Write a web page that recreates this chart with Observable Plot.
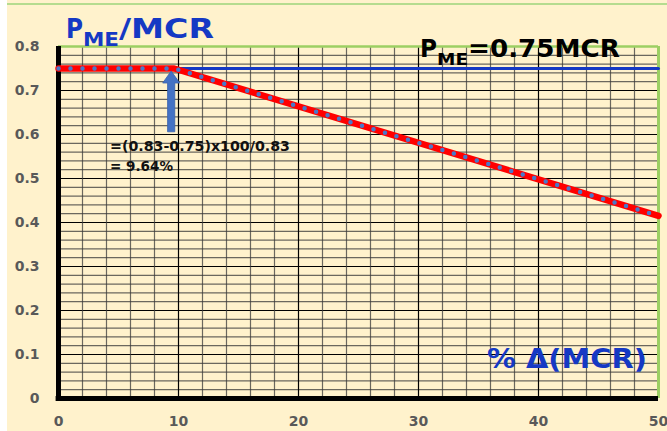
<!DOCTYPE html>
<html><head><meta charset="utf-8">
<script src="https://cdn.jsdelivr.net/npm/d3@7"></script>
<script src="https://cdn.jsdelivr.net/npm/@observablehq/plot@0.6"></script>
<style>
body{margin:0;background:#fff;}
#chart{position:relative;width:667px;height:431px;}
</style>
</head><body><div id="chart"></div>
<script>
// Data
const deltaMCR = [0, 9.64, 50];          // % Δ(MCR)
const pmeRatio = [0.75, 0.75, 0.415];    // P_ME/MCR (red dashed curve)
const limitDelta = [9.64, 50];           // blue line P_ME = 0.75 MCR
const limitRatio = [0.75, 0.75];
const arrowBottom = 0.605;               // arrow from this level up to the knee
const xTicks = [0, 10, 20, 30, 40, 50];
const yTicks = [0, 0.1, 0.2, 0.3, 0.4, 0.5, 0.6, 0.7, 0.8];

const curve = deltaMCR.map((d, i) => ({d, p: pmeRatio[i]}));
const limit = limitDelta.map((d, i) => ({d, p: limitRatio[i]}));

const xMinor = d3.range(2, 50, 2).filter(v => v % 10 !== 0);
const xMajor = [10, 20, 30, 40];
const yMinor = d3.range(1, 40).map(i => i * 0.02).filter((v, i) => (i + 1) % 5 !== 0);
const yMajor = [0.1, 0.2, 0.3, 0.4, 0.5, 0.6, 0.7];

const blue = "#1539c4";
const arrowMark = (index, scales) => {
  const cx = scales.x(deltaMCR[1]) - 2.5;
  const tip = scales.y(pmeRatio[1]) + 3;
  const base = scales.y(arrowBottom);
  const headH = 12, headW = 8.5, shaftW = 3.6;
  const p = `M${cx - shaftW},${base} L${cx - shaftW},${tip + headH} L${cx - headW},${tip + headH} L${cx},${tip} L${cx + headW},${tip + headH} L${cx + shaftW},${tip + headH} L${cx + shaftW},${base} Z`;
  return d3.create("svg:path").attr("d", p).attr("fill", "#4472C4").attr("stroke", "#3a63ad").attr("stroke-width", 0.8).node();
};

const chart = Plot.plot({
  width: 667,
  height: 431,
  marginLeft: 58,
  marginRight: 9,
  marginTop: 46,
  marginBottom: 33,
  style: {
    background: "linear-gradient(#b5dc8f,#b5dc8f) 7px 3px / 100% 2px no-repeat, linear-gradient(to right, #fff 7px, #FFF2CC 7px)",
    fontFamily: "DejaVu Sans",
    fontWeight: "bold",
    fontSize: "14px",
    color: "#595959"
  },
  x: {domain: [0, 50], ticks: xTicks, tickSize: 0, tickPadding: 18, label: null},
  y: {domain: [0, 0.8], ticks: yTicks, tickSize: 0, tickPadding: 19, label: null, tickFormat: d => d3.format("~g")(d)},
  marks: [
    Plot.ruleY(yMinor, {stroke: "#3a3a3a", strokeOpacity: 0.75, strokeWidth: 1.3}),
    Plot.ruleY(yMajor, {stroke: "#000", strokeWidth: 1}),
    Plot.ruleX(xMinor, {stroke: "#3a3a3a", strokeOpacity: 0.75, strokeWidth: 1.2}),
    Plot.ruleX(xMajor, {stroke: "#000", strokeWidth: 1.2}),
    Plot.ruleY([0.8], {stroke: "#9ccf63", strokeWidth: 2.5}),
    Plot.ruleX([50], {stroke: "#9ccf63", strokeWidth: 3}),
    Plot.ruleX([0], {y1: 0, y2: 0.8, stroke: "#000", strokeWidth: 5}),
    Plot.ruleY([0], {x1: -0.2, x2: 50, stroke: "#000", strokeWidth: 5}),
    Plot.line(limit, {x: "d", y: "p", stroke: blue, strokeWidth: 3}),
    Plot.line(curve, {x: "d", y: "p", stroke: "#ff0000", strokeWidth: 6.5}),
    Plot.line(curve, {x: "d", y: "p", stroke: "#4a78c8", strokeWidth: 4.5, strokeDasharray: "0 12", strokeLinecap: "round"}),
    arrowMark
  ]
});

document.getElementById("chart").appendChild(chart);

const svg = d3.select(chart);
function label(txt, x, y, size, len, fill) {
  svg.append("text").attr("x", x).attr("y", y)
    .attr("text-anchor", "start")
    .attr("font-family", "DejaVu Sans").attr("font-weight", "bold")
    .attr("font-size", size).attr("fill", fill)
    .attr("textLength", len).attr("lengthAdjust", "spacingAndGlyphs")
    .text(txt);
}
// Title P_ME/MCR
label("P", 66, 38, 27, 17, blue);
label("ME", 83, 46, 19, 36, blue);
label("/MCR", 119, 38, 27, 95, blue);
// P_ME=0.75MCR
label("P", 420, 57, 24, 17, "#000");
label("ME", 437, 65, 16, 31, "#000");
label("=0.75MCR", 468, 57, 24, 152, "#000");
// x-axis title
label("% Δ(MCR)", 487, 368, 26, 160, blue);
// annotation
label("=(0.83-0.75)x100/0.83", 110, 151, 14, 180, "#111");
label("= 9.64%", 110, 171, 14, 63, "#111");
</script>
</body></html>
